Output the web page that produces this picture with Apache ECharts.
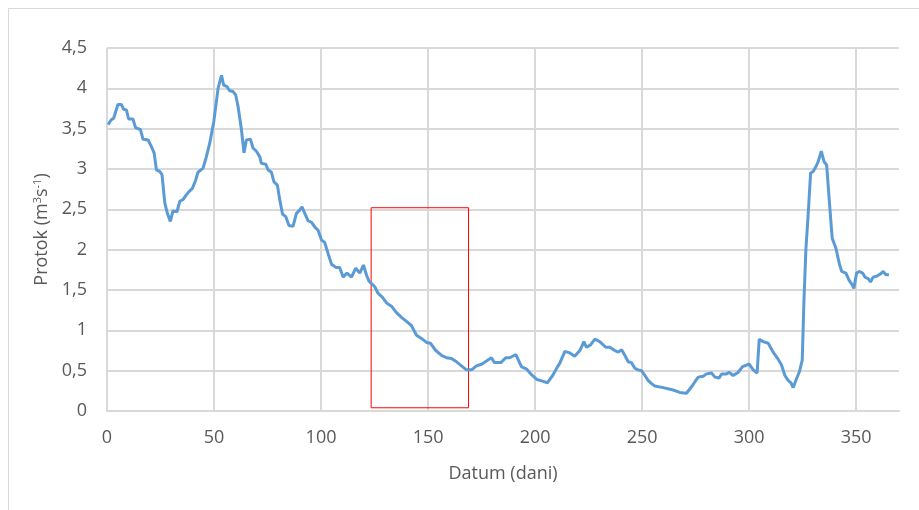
<!DOCTYPE html>
<html>
<head>
  <meta charset="UTF-8">
  <title>Protok</title>
  <script src="https://cdn.jsdelivr.net/npm/echarts@6/dist/echarts.min.js"></script>
  <style>
    html, body { margin: 0; padding: 0; background: #fff; }
    #main { width: 919px; height: 510px; }
  </style>
</head>
<body>
  <div id="main"></div>
  <script>
    // dan u godini (ocitano s grafa)
    var days = [
      0.5, 2, 3.1, 5.1, 6.7, 7.8, 9.1, 10.1, 12.1, 13.4, 15.6, 16.8, 19.2, 20.7, 22, 23.1,
      24.6, 25.7, 27, 28.2, 29.6, 30.8, 32.7, 34, 35.5, 36.8, 38.3, 39.9, 41.4, 42.5, 44.9,
      46.4, 48, 49.9, 51.9, 53.5, 54.5, 56.1, 57.3, 58.9, 60.1, 61.2, 62.8, 64, 65.1, 67,
      68.2, 69.8, 71.4, 72.1, 74.2, 75.2, 76.8, 78, 79.6, 80.7, 82, 83.5, 85, 86.9, 88.5,
      90, 91.1, 92.4, 93.9, 95.5, 97.1, 98.6, 100.2, 101.7, 103.3, 104.9, 106.9, 108.7,
      110.3, 112.1, 114.2, 116.2, 118.1, 119.8, 121.3, 122.4, 123.6, 125.1, 126.6, 128.7,
      130.6, 132.9, 135.2, 137.6, 139.9, 142.2, 144.6, 146.9, 149.3, 151.1, 153.6, 156.3,
      158.6, 160.9, 163.3, 165.6, 167.9, 170.3, 172.6, 175, 177.3, 179.6, 181, 184, 186.3,
      188.2, 191, 193.6, 196, 198.3, 200.9, 203.5, 205.7, 208.2, 210.5, 211.5, 213.9, 216.2,
      218.5, 220.9, 222.8, 224, 225.9, 227.9, 230.2, 233, 234.9, 237.2, 238.8, 240.4, 241.9,
      243.5, 245, 246.6, 248.1, 249.7, 251.3, 252.8, 254.4, 255.9, 259.8, 264.5, 267.6,
      270.7, 273.1, 274.6, 276.2, 278.5, 280.1, 282.4, 284, 286, 287.1, 289.4, 290.7, 292.5,
      294.9, 296.9, 298.8, 300, 301.9, 303.7, 304.7, 306.5, 308.9, 311.2, 313.6, 315.1,
      316.7, 318.2, 319.5, 320.6, 322.1, 323.4, 324.8, 325.6, 326.5, 327.6, 328.7, 329.9,
      331.2, 332.2, 333.7, 335, 336.2, 337.4, 338.8, 340.5, 342.1, 343.2, 345.2, 346.7, 348,
      348.9, 350.2, 351.4, 353, 354.1, 355.6, 356.7, 357.9, 359.5, 361.4, 362.6, 363.9, 365.3
    ];
    // protok m3/s
    var flow = [
      3.55, 3.61, 3.63, 3.80, 3.80, 3.74, 3.73, 3.62, 3.62, 3.51, 3.49, 3.37, 3.36, 3.28, 3.20, 2.99,
      2.97, 2.93, 2.58, 2.45, 2.35, 2.48, 2.47, 2.60, 2.62, 2.67, 2.72, 2.76, 2.86, 2.96, 3.01,
      3.15, 3.32, 3.59, 4.00, 4.16, 4.04, 4.02, 3.97, 3.96, 3.92, 3.78, 3.49, 3.20, 3.36, 3.37,
      3.26, 3.22, 3.15, 3.07, 3.06, 2.99, 2.96, 2.84, 2.80, 2.62, 2.44, 2.41, 2.30, 2.29, 2.45,
      2.49, 2.53, 2.45, 2.36, 2.34, 2.28, 2.24, 2.12, 2.09, 1.95, 1.82, 1.78, 1.78,
      1.66, 1.71, 1.66, 1.77, 1.71, 1.81, 1.68, 1.61, 1.58, 1.54, 1.46, 1.41,
      1.34, 1.30, 1.22, 1.16, 1.11, 1.06, 0.94, 0.90, 0.85, 0.84, 0.75, 0.69,
      0.66, 0.65, 0.61, 0.56, 0.51, 0.51, 0.56, 0.58, 0.62, 0.66, 0.60, 0.60, 0.66,
      0.66, 0.70, 0.55, 0.52, 0.45, 0.39, 0.37, 0.35, 0.44, 0.55, 0.59, 0.74, 0.72,
      0.68, 0.75, 0.86, 0.79, 0.82, 0.89, 0.86, 0.79, 0.79, 0.75, 0.73, 0.76, 0.69,
      0.61, 0.60, 0.53, 0.51, 0.50, 0.44, 0.38, 0.34, 0.31, 0.29, 0.26, 0.23,
      0.22, 0.30, 0.36, 0.42, 0.43, 0.46, 0.47, 0.42, 0.41, 0.46, 0.46, 0.48, 0.44,
      0.48, 0.55, 0.57, 0.58, 0.51, 0.47, 0.89, 0.86, 0.84, 0.73, 0.64, 0.57,
      0.44, 0.38, 0.35, 0.29, 0.40, 0.48, 0.63, 1.37, 2.00, 2.45, 2.95, 2.97,
      3.03, 3.09, 3.22, 3.09, 3.05, 2.62, 2.14, 2.02, 1.83, 1.73, 1.71, 1.62, 1.57,
      1.52, 1.71, 1.73, 1.71, 1.66, 1.64, 1.60, 1.66, 1.67, 1.70, 1.73, 1.69, 1.69
    ];
    var xTicks = [0, 50, 100, 150, 200, 250, 300, 350];
    var yTicks = [0, 0.5, 1, 1.5, 2, 2.5, 3, 3.5, 4, 4.5];
    // oznaceno razdoblje (crveni okvir)
    var boxDays = [123.4, 168.9];
    var boxFlow = [0.04, 2.52];

    var points = days.map(function (d, i) { return [d, flow[i]]; });
    var gridColor = '#d9d9d9';
    var textColor = '#595959';
    var font = '"Open Sans", "Noto Sans", sans-serif';

    // zadnja vertikalna linija (na rubu) se ne crta
    var xLineColors = xTicks.map(function () { return gridColor; });
    xLineColors.push('rgba(0,0,0,0)');

    var myChart = echarts.init(document.getElementById('main'), null, { renderer: 'canvas' });
    var option = {
      animation: false,
      backgroundColor: '#fff',
      textStyle: { fontFamily: font },
      graphic: [{
        type: 'rect',
        shape: { x: 8.5, y: 8.5, width: 1000, height: 1000 },
        style: { fill: 'none', stroke: gridColor, lineWidth: 1 },
        silent: true
      }],
      grid: { left: 107, right: 20, top: 48, bottom: 99 },
      xAxis: {
        type: 'value',
        min: 0,
        max: 370,
        interval: 50,
        name: 'Datum (dani)',
        nameLocation: 'middle',
        nameGap: 54,
        nameTextStyle: { color: textColor, fontSize: 18, fontFamily: font },
        axisLine: { show: true, lineStyle: { color: gridColor, width: 2 } },
        axisTick: { show: false },
        axisLabel: {
          color: textColor, fontSize: 18, fontFamily: font, margin: 18,
          showMaxLabel: false,
          formatter: function (v) { return xTicks.indexOf(v) >= 0 ? String(v) : ''; }
        },
        splitLine: { show: true, lineStyle: { color: xLineColors, width: 2 } }
      },
      yAxis: {
        type: 'value',
        min: yTicks[0],
        max: yTicks[yTicks.length - 1],
        interval: 0.5,
        name: 'Protok (m{sup|3}s{sup|-1})',
        nameLocation: 'middle',
        nameGap: 56,
        nameTextStyle: {
          color: textColor, fontSize: 18, fontFamily: font,
          rich: {
            sup: { fontSize: 11, color: textColor, fontFamily: font, verticalAlign: 'top', padding: [0, 0, 8, 0] }
          }
        },
        axisLine: { show: false },
        axisTick: { show: false },
        axisLabel: {
          color: textColor, fontSize: 18, fontFamily: font, margin: 20,
          formatter: function (v) { return String(v).replace('.', ','); }
        },
        splitLine: { show: true, lineStyle: { color: gridColor, width: 2 } }
      },
      series: [{
        type: 'line',
        data: points,
        showSymbol: false,
        symbol: 'none',
        lineStyle: { color: '#5b9bd5', width: 3 },
        itemStyle: { color: '#5b9bd5' },
        markArea: {
          silent: true,
          itemStyle: { color: 'rgba(0,0,0,0)', borderColor: '#ff0000', borderWidth: 1 },
          data: [[
            { coord: [boxDays[0], boxFlow[1]] },
            { coord: [boxDays[1], boxFlow[0]] }
          ]]
        }
      }]
    };
    myChart.setOption(option);
  </script>
</body>
</html>
